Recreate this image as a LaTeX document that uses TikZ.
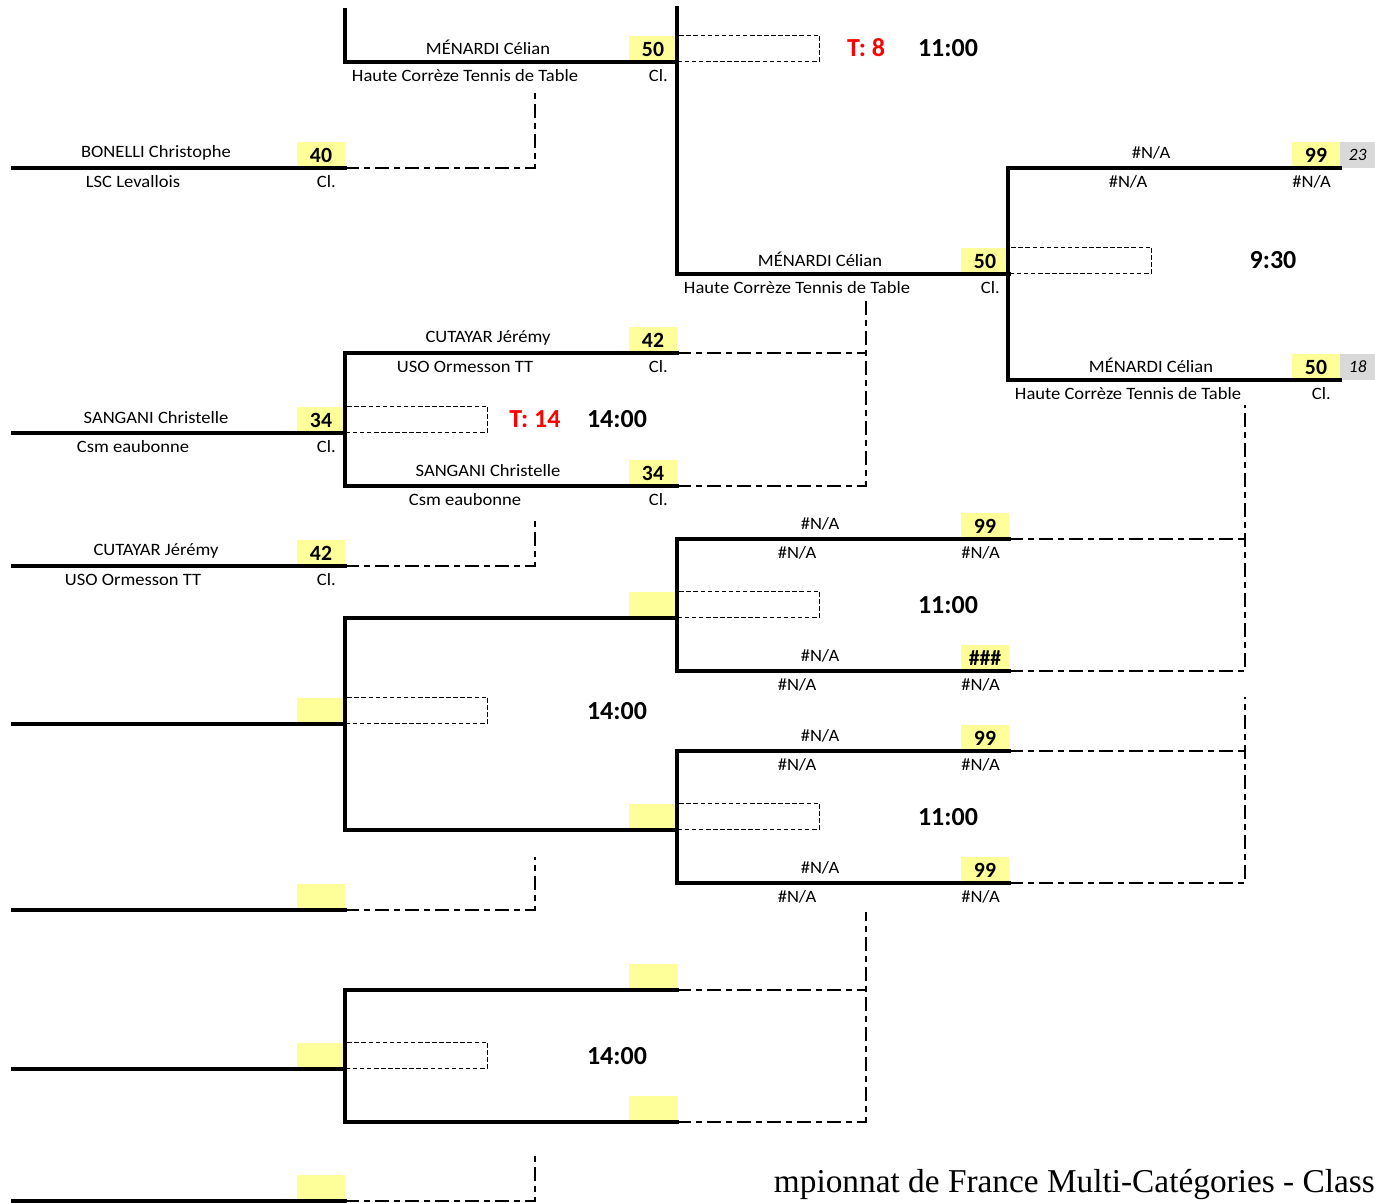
\documentclass[tikz,border=0pt]{standalone}
\usepackage{fontspec}
\setmainfont{Carlito}
\newfontfamily\cellfont[FakeStretch=1.07]{Carlito}
\newfontfamily\titlefont{Liberation Serif}
\definecolor{cellyellow}{RGB}{255,255,153}
\definecolor{cellgray}{RGB}{217,217,217}
\definecolor{tred}{RGB}{255,0,0}
\tikzset{
  bline/.style={line width=2.4pt, line cap=rect},
  link/.style={line width=1.4pt, dash pattern=on 10.5pt off 3.75pt on 4.5pt off 3.75pt},
  dbox/.style={draw, line width=1.1pt, dash pattern=on 3.4pt off 1.9pt, minimum width=106.5pt, minimum height=19.5pt, inner sep=0pt, anchor=south west},
  ptext/.style={inner sep=0pt, font=\cellfont\fontsize{13}{15}\selectfont},
  numbox/.style={fill=cellyellow, minimum width=36pt, minimum height=19.5pt, inner sep=0pt, font=\bfseries\fontsize{16.3}{18}\selectfont},
  graybox/.style={fill=cellgray, minimum width=26.25pt, minimum height=19.5pt, inner sep=0pt, anchor=south west, font=\itshape\fontsize{13}{15}\selectfont},
  timetxt/.style={inner sep=0pt, font=\bfseries\fontsize{19.5}{22}\selectfont},
  redtxt/.style={timetxt, text=tred}
}
% #1 id, #2 x0, #3 y, #4 player, #5 number, #6 club, #7 right label
\newcommand\pslot[7]{%
  \coordinate (#1-L) at (#2,#3);
  \coordinate (#1-R) at ({#2+332},#3);
  \node[numbox] (#1-n) at ({#2+308},{#3-13}) {#5};
  \node[ptext] (#1-p) at ({#2+143},{#3-15}) {#4};
  \node[ptext] (#1-c) at ({#2+120},{#3+14}) {#6};
  \node[ptext,anchor=east] (#1-k) at ({#2+323},{#3+14}) {#7};
}
\begin{document}
\begin{tikzpicture}[x=0.75pt,y=-0.75pt]
\useasboundingbox (0,0) rectangle (1375,1203);
% round 1
\pslot{a1}{13}{168}{BONELLI Christophe}{40}{LSC Levallois}{Cl.}
\pslot{a2}{13}{433}{SANGANI Christelle}{34}{Csm eaubonne}{Cl.}
\pslot{a3}{13}{566}{CUTAYAR Jérémy}{42}{USO Ormesson TT}{Cl.}
\pslot{a4}{13}{724}{}{}{}{}
\pslot{a5}{13}{910}{}{}{}{}
\pslot{a6}{13}{1069}{}{}{}{}
\pslot{a7}{13}{1201}{}{}{}{}
% round 2
\pslot{b1}{345}{62}{MÉNARDI Célian}{50}{Haute Corrèze Tennis de Table}{Cl.}
\pslot{b2}{345}{353}{CUTAYAR Jérémy}{42}{USO Ormesson TT}{Cl.}
\pslot{b3}{345}{486}{SANGANI Christelle}{34}{Csm eaubonne}{Cl.}
\pslot{b4}{345}{618}{}{}{}{}
\pslot{b5}{345}{830}{}{}{}{}
\pslot{b6}{345}{990}{}{}{}{}
\pslot{b7}{345}{1122}{}{}{}{}
% round 3
\pslot{c1}{677}{274}{MÉNARDI Célian}{50}{Haute Corrèze Tennis de Table}{Cl.}
\pslot{c2}{677}{539}{\#N/A}{99}{\#N/A}{\#N/A}
\pslot{c3}{677}{671}{\#N/A}{\#\#\#}{\#N/A}{\#N/A}
\pslot{c4}{677}{751}{\#N/A}{99}{\#N/A}{\#N/A}
\pslot{c5}{677}{883}{\#N/A}{99}{\#N/A}{\#N/A}
% round 4
\pslot{d1}{1008}{168}{\#N/A}{99}{\#N/A}{\#N/A}
\pslot{d2}{1008}{380}{MÉNARDI Célian}{50}{Haute Corrèze Tennis de Table}{Cl.}
\node[graybox] (g1) at (d1-R) {23};
\node[graybox] (g2) at (d2-R) {18};
% thick horizontal lines
\foreach \s in {a1,a2,a3,a4,a5,a6,a7,b1,b2,b3,b4,b5,b6,b7,c1,c2,c3,c4,c5,d1,d2}
  \draw[bline] (\s-L) -- (\s-R);
% bracket verticals
\coordinate (top1) at (345,10);
\coordinate (top2) at (677,8);
\draw[bline] (top1) -- (b1-L);
\draw[bline] (top2) -- (c1-L);
\draw[bline] (b2-L) -- (b3-L);
\draw[bline] (b4-L) -- (b5-L);
\draw[bline] (b6-L) -- (b7-L);
\draw[bline] (c2-L) -- (c3-L);
\draw[bline] (c4-L) -- (c5-L);
\draw[bline] (d1-L) -- (d2-L);
% score boxes
\node[dbox] (s1) at (a2-R) {};
\node[dbox] (s2) at (a4-R) {};
\node[dbox] (s3) at (a6-R) {};
\node[dbox] (s4) at (b1-R) {};
\node[dbox] (s5) at (b4-R) {};
\node[dbox] (s6) at (b5-R) {};
\node[dbox] (s7) at (c1-R) {};
% table and time labels
\node[redtxt] (t1) at (535,419) {T: 14};
\node[timetxt] (h1) at (617,419) {14:00};
\node[timetxt] (h2) at (617,711) {14:00};
\node[timetxt] (h3) at (617,1056) {14:00};
\node[redtxt] (t2) at (866,48) {T: 8};
\node[timetxt] (h4) at (948,48) {11:00};
\node[timetxt] (h5) at (948,605) {11:00};
\node[timetxt] (h6) at (948,817) {11:00};
\node[timetxt] (h7) at (1273,260) {9:30};
% dash-dot connectors
\coordinate (k1) at (535,88);
\coordinate (k2) at (535,517);
\coordinate (k3) at (535,857);
\coordinate (k4) at (535,1153);
\coordinate (k5) at (866,300);
\coordinate (k6) at (866,912);
\coordinate (k7) at (1245,405);
\coordinate (k8) at (1245,697);
\draw[link] (a1-R) -| (k1);
\draw[link] (a3-R) -| (k2);
\draw[link] (a5-R) -| (k3);
\draw[link] (a7-R) -| (k4);
\draw[link] (b3-R) -| (k5);
\draw[link] (b2-R) -- (b2-R -| k5);
\draw[link] (b7-R) -| (k6);
\draw[link] (b6-R) -- (b6-R -| k6);
\draw[link] (c3-R) -| (k7);
\draw[link] (c2-R) -- (c2-R -| k7);
\draw[link] (c5-R) -| (k8);
\draw[link] (c4-R) -- (c4-R -| k8);
% footer title
\node[anchor=base east, inner sep=0pt, font=\titlefont\fontsize{25}{30}\selectfont] (title) at (1375,1192) {mpionnat de France Multi-Catégories - Class};
\end{tikzpicture}
\end{document}
